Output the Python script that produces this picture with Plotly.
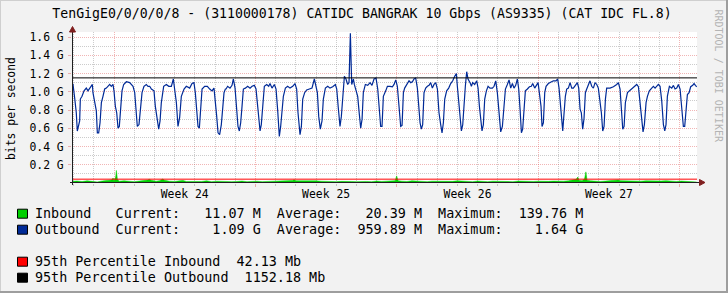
import plotly.graph_objects as go

# ---------------- data (time in hours from start of Week 24, values in G bits/s) -------------
out_h = [-49.5,-48.7,-46.7,-44.8,-43.6,-42.0,-40.8,-40.0,-38.0,-35.6,-32.9,-30.9,-28.9,-26.9,-25.7,-25.0,-23.0,-21.0,-19.8,-18.2,
         -16.6,-15.0,-13.1,-11.1,-9.1,-7.1,-5.1,-3.2,-1.2,0.0,1.6,3.2,4.8,6.3,7.9,9.5,11.5,14.7,18.6,20.6,
         22.6,24.6,26.5,27.7,29.7,31.7,33.3,35.6,38.4,40.4,42.4,44.4,47.5,49.1,51.5,53.1,54.7,56.2,59.0,62.2,
         65.0,68.1,70.5,72.1,74.1,76.0,78.0,80.0,83.2,85.9,89.9,92.7,95.0,96.6,98.2,99.8,101.4,103.0,104.6,107.7,
         110.9,113.7,116.4,118.8,120.0,122.0,123.6,125.5,127.5,129.1,130.7,132.3,
         133.1,135.0,137.8,140.2,141.8,143.8,145.7,147.3,148.9,150.5,152.1,153.7,156.0,158.8,161.6,164.0,166.7,168.7,
         170.7,171.9,173.5,175.0,176.6,178.6,181.4,183.8,185.3,187.7,190.5,192.5,194.5,196.4,198.0,199.6,201.2,203.6,
         206.3,209.1,212.3,215.0,217.0,218.6,221.0,222.6,224.2,226.5,228.9,232.1,235.2,238.0,240.0,241.6,243.2,245.1,
         247.1,248.7,251.1,253.9,256.6,259.8,263.0,264.6,266.5,268.5,270.1,271.7,273.7,275.6,277.6,279.2,280.8,282.4,
         284.4,285.5,286.7,289.5,291.5,293.1,294.7,296.2,298.6,301.4,304.2,306.5,308.9,311.3,313.3,315.2,316.8,318.4,320.0,
         322.8,324.8,327.9,330.7,332.7,334.7,336.6,338.2,339.8,340.6,342.2,343.8,345.3,347.7,350.5,352.5,354.5,356.4,
         358.4,360.4,362.0,363.6,365.1,366.7,368.3,370.3,372.3,374.3,376.2,378.2,380.2,382.2,384.2,386.1,388.1,389.7,
         391.3,392.9,395.2,397.6,400.0,402.4,404.8,406.7,407.9,409.5,411.1,412.7,414.3,415.8,417.4,419.0,420.6,423.0,
         424.6,426.1,428.5,430.9,432.5,434.1,435.6,437.2,438.8,440.4,442.4,444.4,446.7,449.5,451.5,453.5,455.4,457.4,
         459.4,461.4,463.4,465.0,467.3,469.3,471.3,473.3,475.2,477.2,479.2,480.8,482.4,484.0,485.5,487.1,488.7,491.1,
         493.5,495.8,497.4,499.8,502.2,503.8,505.3,
         507.3,508.5,510.1,511.7,513.3,516.0,518.8,522.0,525.1,527.1,528.7,530.3,531.9,533.1,534.7,536.2,537.8,539.8,
         541.8,543.8,545.7,547.7,550.5,552.1,553.7,555.2,556.8,558.4,560.0,561.6,563.6,565.5,567.5,569.5,571.5,573.5,
         575.4,577.4,579.0,580.6,582.2,583.8,585.3,589.3,593.3,597.2,599.2,601.2,602.8,604.4,606.0,607.5,610.0,612.3,
         615.1,617.0,619.0,621.0,623.0,624.9,626.9,628.5,630.1,632.1,633.7,636.0,638.8,640.8,642.8,644.8,646.7,648.7,
         650.7,652.7,654.3,655.8,657.4,659.8,662.6,664.6,666.5,668.5,670.5,672.5,674.5,676.4,678.0,679.6,681.2,683.2,
         685.1,687.5,689.1,690.7,692.3]
out_v = [1.08,1.08,0.93,0.77,0.57,0.66,0.68,0.92,0.95,1.01,1.04,1.01,1.04,1.07,1.08,0.99,0.88,0.79,0.55,0.55,
         0.66,0.88,0.95,1.03,1.04,1.06,1.08,1.06,1.08,1.01,0.84,0.77,0.60,0.62,0.81,1.01,1.08,1.11,1.10,1.08,
         1.06,0.99,0.81,0.62,0.64,0.81,0.99,1.06,1.08,1.06,1.06,1.03,1.01,0.84,0.68,0.59,0.68,0.88,1.06,1.08,
         1.06,1.06,1.14,1.03,0.88,0.62,0.72,0.95,1.03,1.06,1.04,1.09,1.10,0.99,0.81,0.62,0.60,0.77,1.03,1.06,
         1.06,1.03,1.01,1.04,0.88,0.73,0.55,0.53,0.64,0.84,0.99,1.03,
         1.03,1.06,1.04,1.07,1.14,1.04,0.84,0.62,0.57,0.66,0.84,1.03,1.04,1.06,1.04,1.06,1.07,1.03,
         0.84,0.73,0.57,0.64,0.84,1.06,1.08,1.06,1.09,1.04,1.08,1.03,0.79,0.51,0.62,0.77,0.95,1.04,
         1.06,1.04,1.06,1.09,1.03,0.77,0.53,0.62,0.92,0.99,1.02,1.03,1.04,1.14,1.04,0.99,0.73,0.59,
         0.68,0.92,1.04,1.06,1.04,1.055,1.08,1.03,0.82,0.62,0.73,0.99,1.17,1.14,1.08,1.10,1.64,1.08,
         1.14,1.08,1.03,0.95,0.75,0.60,0.70,0.99,1.08,1.07,1.10,1.07,1.14,1.15,1.03,0.84,0.62,0.62,0.95,
         1.01,1.06,1.06,1.055,1.08,1.13,1.06,0.88,0.73,0.62,0.63,0.99,1.04,1.08,1.12,1.10,1.11,1.14,
         1.15,1.04,0.81,0.66,0.59,0.64,0.99,1.04,1.06,1.07,1.10,1.04,1.08,1.10,1.03,0.77,0.64,0.55,
         0.66,0.92,1.01,1.04,1.09,1.12,1.17,1.20,1.06,0.88,0.70,0.57,0.64,0.92,1.06,1.22,1.14,1.10,
         1.06,1.10,1.08,1.12,1.04,0.84,0.66,0.57,0.64,0.92,1.01,1.06,1.04,1.04,1.06,1.12,0.99,0.79,
         0.56,0.62,0.84,1.03,1.08,1.13,1.04,1.09,1.04,1.07,1.14,1.03,0.81,0.55,0.59,0.81,1.01,1.03,
         1.055,1.06,1.09,1.04,1.07,1.10,0.99,
         0.84,0.62,0.66,0.99,1.06,1.09,1.10,1.12,1.12,1.14,1.04,0.84,0.73,0.57,0.77,0.95,1.03,1.04,
         1.10,1.04,1.04,1.06,1.10,1.04,0.81,0.77,0.59,0.71,0.99,1.03,1.08,1.12,1.06,1.04,1.10,1.08,
         1.04,0.92,0.77,0.57,0.62,0.92,1.04,1.04,1.055,1.08,1.10,1.03,0.81,0.59,0.62,0.88,0.99,1.01,
         1.03,1.04,1.06,1.08,1.055,0.88,0.73,0.56,0.64,0.88,0.95,1.01,1.04,1.06,1.04,1.06,1.08,1.06,
         0.90,0.64,0.57,0.64,0.95,1.06,1.04,1.07,1.03,1.04,1.08,1.03,0.84,0.62,0.62,0.86,0.97,0.99,
         1.055,1.07,1.09,1.07,1.055]

in_h = [-49.5,-44,-38,-32,-26,-20,-14,-8,-3,-1,0,2,2.8,4,6,12,18,24,30,36,40,42,44,50,54,58,60,66,72,78,
        82,86,92,98,104,110,116,122,128,134,140,146,152,158,164,170,176,182,188,194,200,206,212,214,216,222,228,234,240,246,
        252,258,264,270,276,282,288,294,300,306,312,318,324,330,334,335.8,337.5,342,348,354,360,366,372,378,384,390,396,402,408,414,
        420,426,432,438,444,450,456,462,468,474,480,486,492,498,504,510,516,522,528,534,540,546,549,551,552.5,556,559,560.6,562,566,
        572,578,584,590,596,599,602,608,614,620,626,632,638,644,650,656,662,668,674,680,686,692.3]
in_v = [0.018,0.022,0.016,0.024,0.018,0.012,0.022,0.026,0.034,0.055,0.026,0.065,0.138,0.045,0.020,0.024,0.018,0.015,0.021,0.026,0.032,0.040,0.030,0.020,0.026,0.044,0.030,0.020,0.017,0.024,
        0.028,0.017,0.015,0.021,0.017,0.024,0.015,0.020,0.017,0.022,0.015,0.017,0.021,0.015,0.018,0.020,0.015,0.018,0.021,0.017,0.024,0.026,0.028,0.036,0.026,0.024,0.026,0.022,0.024,0.020,
        0.017,0.020,0.015,0.018,0.021,0.017,0.015,0.020,0.017,0.015,0.021,0.017,0.020,0.018,0.026,0.078,0.026,0.020,0.017,0.024,0.021,0.017,0.015,0.020,0.018,0.022,0.015,0.018,0.024,0.020,
        0.017,0.015,0.021,0.017,0.015,0.020,0.017,0.022,0.018,0.015,0.021,0.017,0.015,0.017,0.020,0.015,0.018,0.021,0.017,0.020,0.024,0.030,0.040,0.065,0.030,0.026,0.045,0.122,0.030,0.024,
        0.020,0.017,0.021,0.026,0.030,0.034,0.026,0.024,0.021,0.026,0.020,0.024,0.021,0.017,0.022,0.026,0.020,0.017,0.021,0.017,0.015,0.011]

p95_in = 0.04213
p95_out = 1.15218

week_centers = [84, 252, 420, 588]
week_labels = ["Week 24", "Week 25", "Week 26", "Week 27"]
week_bounds = [0, 168, 336, 504, 672]
y_ticks = [0.2, 0.4, 0.6, 0.8, 1.0, 1.2, 1.4, 1.6]
y_labels = ["0.2 G", "0.4 G", "0.6 G", "0.8 G", "1.0 G", "1.2 G", "1.4 G", "1.6 G"]

title = "TenGigE0/0/0/0/8 - (3110000178) CATIDC BANGRAK 10 Gbps (AS9335) (CAT IDC FL.8)"
legend_rows = [
    ("#00CF00", "Inbound   Current:   11.07 M  Average:   20.39 M  Maximum:  139.76 M"),
    ("#002A97", "Outbound  Current:    1.09 G  Average:  959.89 M  Maximum:    1.64 G"),
    ("#FF0000", "95th Percentile Inbound  42.13 Mb"),
    ("#000000", "95th Percentile Outbound  1152.18 Mb"),
]

# ---------------- layout geometry ----------------
W, H = 728, 293
L, R, T, B = 72, 31, 32, 110
XR = [-49.9, 692.6]
YR = [0, 1.655]
PW, PH = W - L - R, H - T - B


def px(x):
    return (x - L) / PW


def py(y):
    return (H - B - y) / PH


MONO = "DejaVu Sans Mono"
MGRID = "rgba(222,79,79,0.42)"
GRID = "rgba(143,143,143,0.45)"

fig = go.Figure()
fig.add_trace(go.Scatter(x=in_h, y=in_v, mode="lines", fill="tozeroy",
                         line=dict(color="#00CF00", width=0.5), fillcolor="#00CF00",
                         hoverinfo="skip"))
fig.add_trace(go.Scatter(x=out_h, y=out_v, mode="lines",
                         line=dict(color="#002A97", width=1.2), hoverinfo="skip"))
fig.add_trace(go.Scatter(x=XR, y=[p95_in, p95_in], mode="lines",
                         line=dict(color="#FF0000", width=1), hoverinfo="skip"))
fig.add_trace(go.Scatter(x=XR, y=[p95_out, p95_out], mode="lines",
                         line=dict(color="#000000", width=1), hoverinfo="skip"))
fig.add_trace(go.Scatter(x=[None], y=[None], xaxis="x2", showlegend=False, hoverinfo="skip"))

day_lines = [d for d in range(-48, 693, 24) if d not in week_bounds]

fig.update_layout(
    width=W, height=H,
    margin=dict(l=L, r=R, t=T, b=B, pad=0),
    paper_bgcolor="#F2F2F2", plot_bgcolor="#FFFFFF",
    showlegend=False,
    font=dict(family=MONO, size=11.4, color="#000000"),
    title=dict(text=title, x=362 / W, xref="container", xanchor="center",
               y=1 - 13.5 / H, yref="container", yanchor="middle",
               font=dict(family=MONO, size=13.2, color="#000000")),
    xaxis=dict(range=XR, tickmode="array", tickvals=week_centers, ticktext=week_labels,
               showgrid=False, zeroline=False, showline=False, ticks="",
               ticklabelstandoff=3,
               minor=dict(tickmode="array", tickvals=day_lines, showgrid=True,
                          gridcolor=GRID, griddash="1px,1px", gridwidth=1,
                          ticks="outside", ticklen=2, tickcolor=GRID)),
    xaxis2=dict(range=XR, overlaying="x", anchor="y", side="bottom",
                tickmode="array", tickvals=week_bounds, showticklabels=False,
                showgrid=True, gridcolor=MGRID, griddash="1px,1px", gridwidth=1,
                ticks="outside", ticklen=3, tickcolor=MGRID, zeroline=False, showline=False),
    yaxis=dict(range=YR, tickmode="array", tickvals=y_ticks, ticktext=y_labels,
               showgrid=True, gridcolor=MGRID, griddash="1px,1px", gridwidth=1,
               zeroline=False, showline=False, ticks="outside", ticklen=3, tickcolor=MGRID,
               ticklabelstandoff=2,
               minor=dict(tickmode="array", tickvals=[0.1, 0.3, 0.5, 0.7, 0.9, 1.1, 1.3, 1.5],
                          showgrid=True, gridcolor=GRID, griddash="1px,1px", gridwidth=1)),
)

shapes = []
# axes lines (drawn above data) and arrows
shapes.append(dict(type="line", xref="paper", yref="paper", x0=px(70), x1=px(701),
                   y0=py(182.5), y1=py(182.5), line=dict(color="#1F1F1F", width=1), layer="above"))
shapes.append(dict(type="line", xref="paper", yref="paper", x0=px(72.5), x1=px(72.5),
                   y0=py(185), y1=py(30), line=dict(color="#1F1F1F", width=1), layer="above"))
shapes.append(dict(type="path", xref="paper", yref="paper",
                   path=f"M {px(69.5)},{py(32)} L {px(72.5)},{py(26.5)} L {px(75.5)},{py(32)} Z",
                   fillcolor="#801F1F", line=dict(color="#801F1F", width=1), layer="above"))
shapes.append(dict(type="path", xref="paper", yref="paper",
                   path=f"M {px(699.5)},{py(179.5)} L {px(705)},{py(182.5)} L {px(699.5)},{py(185.5)} Z",
                   fillcolor="#801F1F", line=dict(color="#801F1F", width=1), layer="above"))
# 3D frame
shapes.append(dict(type="line", xref="paper", yref="paper", x0=px(0), x1=px(W), y0=py(0.5), y1=py(0.5),
                   line=dict(color="#CFCFCF", width=1)))
shapes.append(dict(type="line", xref="paper", yref="paper", x0=px(0.5), x1=px(0.5), y0=py(0), y1=py(H),
                   line=dict(color="#CFCFCF", width=1)))
shapes.append(dict(type="line", xref="paper", yref="paper", x0=px(0), x1=px(W), y0=py(H - 1), y1=py(H - 1),
                   line=dict(color="#9E9E9E", width=2)))
shapes.append(dict(type="line", xref="paper", yref="paper", x0=px(W - 1), x1=px(W - 1), y0=py(0), y1=py(H),
                   line=dict(color="#9E9E9E", width=2)))

annotations = []
row_y = [213.7, 229.7, 261.7, 277.7]
for (col, txt), cy in zip(legend_rows, row_y):
    shapes.append(dict(type="rect", xref="paper", yref="paper",
                       x0=px(17.5), x1=px(27.5), y0=py(cy - 4.5), y1=py(cy + 4.5),
                       fillcolor=col, line=dict(color="#000000", width=1)))
    annotations.append(dict(text=txt.replace(" ", "\u00a0"), xref="paper", yref="paper",
                            x=px(33.5), y=py(cy), xanchor="left", yanchor="middle",
                            showarrow=False, borderpad=0,
                            font=dict(family=MONO, size=13.4, color="#000000")))

annotations.append(dict(text="bits per second", xref="paper", yref="paper", x=px(11), y=py(108),
                        xanchor="center", yanchor="middle", textangle=-90, showarrow=False,
                        font=dict(family=MONO, size=11.4, color="#000000")))
annotations.append(dict(text="RRDTOOL / TOBI OETIKER", xref="paper", yref="paper", x=px(718), y=py(75.5),
                        xanchor="center", yanchor="middle", textangle=90, showarrow=False,
                        font=dict(family=MONO, size=10, color="#B4B4B4")))

fig.update_layout(shapes=shapes, annotations=annotations)
fig.write_html("out.html")
